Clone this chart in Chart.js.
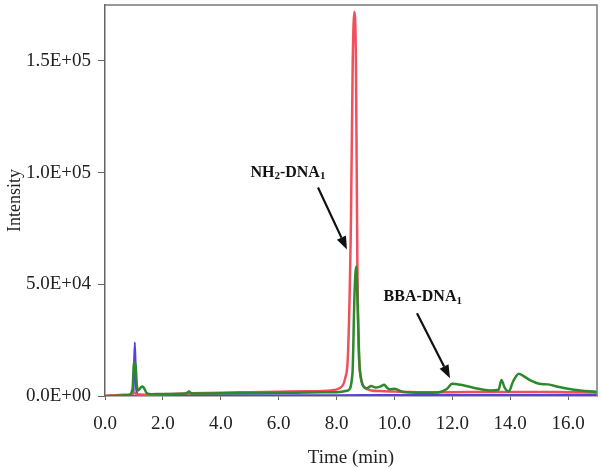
<!DOCTYPE html>
<html>
<head>
<meta charset="utf-8">
<script src="https://cdn.jsdelivr.net/npm/chart.js@4/dist/chart.umd.min.js"></script>
<style>
  body { margin: 0; background: #fff; }
  canvas { display: block; }
</style>
</head>
<body>
<canvas id="chromChart" width="601" height="469"></canvas>
<script>
// retention time (min) and intensity for each trace
const greenTime = [0, 0.8, 0.95, 1.0, 1.05, 1.1, 1.15, 1.25, 1.3, 1.35, 1.45, 1.6, 2, 2.8, 2.9, 3.0, 4, 5, 6, 7, 8, 8.4, 8.55, 8.62, 8.68, 8.73, 8.79, 8.86, 8.95, 9.05, 9.2, 9.35, 9.5, 9.65, 9.75, 9.85, 10.0, 10.3, 11, 11.5, 11.8, 12.0, 12.3, 12.8, 13.3, 13.6, 13.7, 13.8, 13.95, 14.1, 14.3, 14.45, 14.7, 15.0, 15.3, 15.7, 16.2, 17];
const greenInt = [0, 300, 3000, 14500, 15000, 5000, 2500, 4000, 4200, 3500, 1200, 800, 900, 1100, 2000, 1100, 1200, 1300, 1400, 1600, 1700, 2500, 10000, 45000, 58000, 40000, 15000, 7000, 4000, 3500, 4500, 3800, 4200, 5000, 3600, 3000, 3200, 1800, 1500, 1600, 3000, 5500, 5000, 3500, 2500, 2800, 7200, 4000, 2000, 6500, 10000, 9000, 7000, 5500, 5200, 4000, 2800, 1800];

const redTime = [0, 0.5, 0.9, 1.0, 1.1, 1.5, 2, 3, 4, 5, 6, 7, 7.8, 8.1, 8.3, 8.4, 8.5, 8.56, 8.62, 8.67, 8.72, 8.77, 8.83, 8.9, 9.0, 9.2, 9.5, 10, 10.5, 11, 12, 13, 14, 15, 16, 17];
const redInt = [0, 500, 800, 1500, 800, 600, 800, 1200, 1500, 1700, 1900, 2100, 2500, 3500, 8000, 20000, 80000, 150000, 172000, 150000, 60000, 20000, 9000, 5000, 3500, 2500, 2200, 2000, 1800, 1700, 1700, 1800, 1800, 1800, 1700, 1600];

const purpleTime = [0, 0.9, 0.98, 1.03, 1.08, 1.15, 1.3, 2, 4, 6, 8, 10, 12, 14, 16, 17];
const purpleInt = [0, 100, 2000, 24000, 3000, 500, 200, 200, 300, 300, 300, 400, 400, 400, 500, 500];

const xTicks = [0, 2, 4, 6, 8, 10, 12, 14, 16];
const yTicks = [0, 50000, 100000, 150000];

// annotation labels: [text, is subscript] pieces, label centre and arrow in data units
const labels = [
  { parts: [['NH', false], ['2', true], ['-DNA', false], ['1', true]], x: 6.32, y: 100000, from: [7.36, 93300], to: [8.36, 65600] },
  { parts: [['BBA-DNA', false], ['1', true]], x: 10.98, y: 44200, from: [10.78, 37000], to: [11.92, 8000] }
];

function pts(t, v) {
  return t.map((x, i) => ({ x: x, y: v[i] }));
}

function sci(v) {
  if (v === 0) return '0.0E+00';
  const e = Math.floor(Math.log10(v));
  const m = v / Math.pow(10, e);
  return m.toFixed(1) + 'E+' + String(e).padStart(2, '0');
}

const serif = '"Liberation Serif", "Times New Roman", serif';

const extras = {
  id: 'extras',
  afterDatasetsDraw(chart) {
    const ctx = chart.ctx;
    const a = chart.chartArea;
    const xs = chart.scales.x, ys = chart.scales.y;
    ctx.save();
    // top and right frame
    ctx.strokeStyle = '#7a7a7a';
    ctx.lineWidth = 1.5;
    ctx.beginPath();
    ctx.moveTo(a.left, a.top);
    ctx.lineTo(a.right, a.top);
    ctx.lineTo(a.right, a.bottom);
    ctx.stroke();

    labels.forEach(l => {
      let w = 0;
      l.parts.forEach(p => {
        ctx.font = 'bold ' + (p[1] ? 11 : 16) + 'px ' + serif;
        w += ctx.measureText(p[0]).width;
      });
      let px = xs.getPixelForValue(l.x) - w / 2;
      const py = ys.getPixelForValue(l.y);
      ctx.fillStyle = '#111';
      ctx.textBaseline = 'middle';
      ctx.textAlign = 'left';
      l.parts.forEach(p => {
        ctx.font = 'bold ' + (p[1] ? 11 : 16) + 'px ' + serif;
        ctx.fillText(p[0], px, py + (p[1] ? 4 : 0));
        px += ctx.measureText(p[0]).width;
      });

      // arrow
      const x1 = xs.getPixelForValue(l.from[0]), y1 = ys.getPixelForValue(l.from[1]);
      const x2 = xs.getPixelForValue(l.to[0]), y2 = ys.getPixelForValue(l.to[1]);
      const ang = Math.atan2(y2 - y1, x2 - x1);
      const head = 13, half = 5;
      const bx = x2 - head * Math.cos(ang), by = y2 - head * Math.sin(ang);
      ctx.strokeStyle = '#111';
      ctx.lineWidth = 2.2;
      ctx.beginPath();
      ctx.moveTo(x1, y1);
      ctx.lineTo(bx, by);
      ctx.stroke();
      ctx.beginPath();
      ctx.moveTo(x2, y2);
      ctx.lineTo(bx + half * Math.sin(ang), by - half * Math.cos(ang));
      ctx.lineTo(bx - half * Math.sin(ang), by + half * Math.cos(ang));
      ctx.closePath();
      ctx.fill();
    });
    ctx.restore();
  }
};

new Chart(document.getElementById('chromChart'), {
  type: 'line',
  data: {
    datasets: [
      { label: 'green', data: pts(greenTime, greenInt), borderColor: '#2b8a2b', borderWidth: 2.5 },
      { label: 'red', data: pts(redTime, redInt), borderColor: '#f0505c', borderWidth: 2.5 },
      { label: 'purple', data: pts(purpleTime, purpleInt), borderColor: '#5a3fd8', borderWidth: 2.2 }
    ]
  },
  options: {
    responsive: false,
    animation: false,
    layout: { padding: { top: 5, right: 4, left: 0, bottom: 0 } },
    elements: {
      point: { radius: 0 },
      line: { tension: 0.3, cubicInterpolationMode: 'monotone' }
    },
    plugins: { legend: { display: false }, tooltip: { enabled: false } },
    scales: {
      x: {
        type: 'linear',
        min: 0,
        max: 17,
        afterFit: s => { s.height = 73; s.paddingLeft = 0; s.paddingRight = 0; },
        afterBuildTicks: s => { s.ticks = xTicks.map(v => ({ value: v })); },
        grid: { drawOnChartArea: false, drawTicks: true, tickLength: 4, color: '#666' },
        border: { color: '#666', width: 1.5 },
        ticks: {
          color: '#222',
          padding: 13,
          maxRotation: 0,
          font: { family: serif, size: 19 },
          callback: v => v.toFixed(1)
        },
        title: {
          display: true,
          text: 'Time (min)',
          color: '#222',
          padding: { top: 0, bottom: 0 },
          font: { family: serif, size: 19 }
        }
      },
      y: {
        min: 0,
        max: 175000,
        afterFit: s => { s.width = 105; s.paddingTop = 0; s.paddingBottom = 0; },
        afterBuildTicks: s => { s.ticks = yTicks.map(v => ({ value: v })); },
        grid: { drawOnChartArea: false, drawTicks: true, tickLength: 7, color: '#666' },
        border: { color: '#666', width: 1.5 },
        ticks: {
          color: '#222',
          padding: 7,
          font: { family: serif, size: 19 },
          callback: v => sci(v)
        },
        title: {
          display: true,
          text: 'Intensity',
          color: '#222',
          padding: { top: 4, bottom: 0 },
          font: { family: serif, size: 18 }
        }
      }
    }
  },
  plugins: [extras]
});
</script>
</body>
</html>
